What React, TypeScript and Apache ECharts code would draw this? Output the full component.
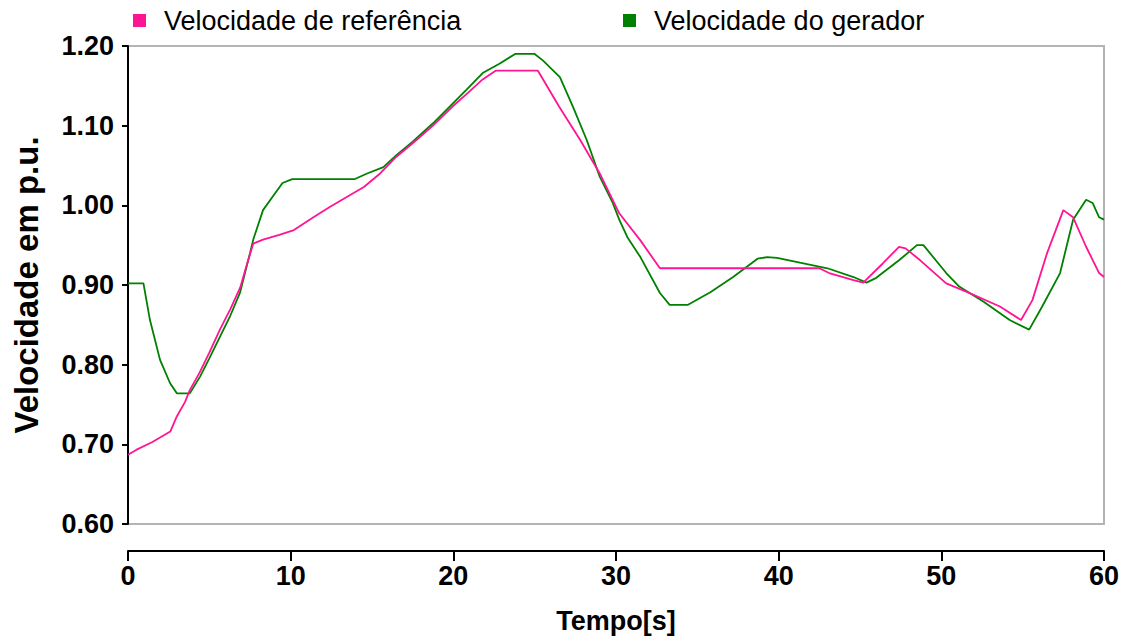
import React, { useEffect, useRef } from "react";
import * as echarts from "echarts";

const seriesNames = ["Velocidade de referência", "Velocidade do gerador"];

const refTime = [0, 0.5, 1.5, 2.6, 3.0, 3.5, 3.8, 4.4, 5.0, 5.65, 6.3, 6.9, 7.3, 7.7, 8.3, 9.3, 10.2, 11.4, 12.4, 13.5, 14.5, 15.5, 16.5, 17.5, 18.75, 20.0, 21.0, 21.8, 22.6, 25.2, 26.5, 27.8, 29.0, 30.2, 31.5, 32.7, 42.5, 43.1, 44.6, 45.2, 46.4, 47.4, 47.8, 48.7, 50.3, 51.6, 53.6, 54.9, 55.6, 56.5, 57.5, 58.1, 58.9, 59.7, 60];
const refValue = [0.687, 0.693, 0.703, 0.716, 0.735, 0.753, 0.768, 0.790, 0.815, 0.844, 0.870, 0.897, 0.925, 0.952, 0.957, 0.963, 0.969, 0.985, 0.998, 1.011, 1.023, 1.040, 1.061, 1.078, 1.100, 1.125, 1.143, 1.158, 1.169, 1.169, 1.124, 1.082, 1.040, 0.990, 0.956, 0.921, 0.921, 0.915, 0.906, 0.903, 0.927, 0.948, 0.946, 0.931, 0.902, 0.891, 0.873, 0.856, 0.881, 0.940, 0.994, 0.985, 0.948, 0.915, 0.910];

const genTime = [0, 0.95, 1.35, 1.97, 2.58, 3.0, 3.8, 4.43, 5.0, 5.65, 6.3, 6.88, 7.5, 7.7, 8.3, 8.9, 9.5, 10.1, 13.95, 14.7, 15.7, 16.5, 17.5, 18.75, 20.8, 21.8, 22.86, 23.8, 25.0, 25.5, 26.55, 27.35, 28.2, 29.0, 29.8, 30.2, 30.7, 31.5, 32.7, 33.3, 34.4, 35.8, 37.2, 38.7, 39.3, 39.9, 41.3, 43.0, 44.6, 45.4, 46.0, 47.4, 48.5, 48.9, 50.3, 51.1, 52.6, 54.2, 55.4, 56.2, 57.3, 58.1, 58.9, 59.3, 59.7, 60];
const genValue = [0.902, 0.902, 0.856, 0.806, 0.777, 0.764, 0.764, 0.785, 0.808, 0.835, 0.862, 0.890, 0.940, 0.957, 0.994, 1.011, 1.028, 1.033, 1.033, 1.040, 1.048, 1.063, 1.080, 1.103, 1.145, 1.166, 1.178, 1.190, 1.190, 1.182, 1.161, 1.124, 1.082, 1.036, 1.003, 0.982, 0.960, 0.935, 0.890, 0.875, 0.875, 0.891, 0.910, 0.933, 0.935, 0.934, 0.928, 0.921, 0.910, 0.903, 0.909, 0.931, 0.950, 0.950, 0.915, 0.898, 0.879, 0.856, 0.844, 0.873, 0.915, 0.982, 1.007, 1.003, 0.985, 0.982];

const xTitle = "Tempo[s]";
const yTitle = "Velocidade em p.u.";

const FONT = "'Liberation Sans', Arial, sans-serif";

export default function App() {
  const ref = useRef<HTMLDivElement>(null);
  useEffect(() => {
    if (!ref.current) return;
    const chart = echarts.init(ref.current, null, { renderer: "svg" });
    const legendBase = {
      icon: "rect",
      itemWidth: 13,
      itemHeight: 13,
      padding: 0,
      top: 7,
      textStyle: { fontSize: 27, color: "#000", fontFamily: FONT, padding: [0, 0, 0, 13] },
    };
    chart.setOption({
      animation: false,
      backgroundColor: "#fff",
      legend: [
        { ...legendBase, data: [seriesNames[0]], left: 133 },
        { ...legendBase, data: [seriesNames[1]], left: 623 },
      ],
      grid: {
        left: 128,
        top: 46,
        width: 976,
        height: 478,
        show: true,
        borderColor: "#b4b4b4",
        borderWidth: 2,
        backgroundColor: "transparent",
      },
      xAxis: {
        type: "value",
        min: 0,
        max: 60,
        interval: 10,
        offset: 27,
        name: xTitle,
        nameLocation: "middle",
        nameGap: 56,
        nameTextStyle: { fontSize: 27, fontWeight: "bold", color: "#000", fontFamily: FONT },
        axisLine: { show: true, onZero: false, lineStyle: { color: "#000", width: 2 } },
        axisTick: { show: true, length: 10, lineStyle: { color: "#000", width: 2 } },
        axisLabel: { fontSize: 27, fontWeight: "bold", color: "#000", margin: 11, fontFamily: FONT },
        splitLine: { show: false },
      },
      yAxis: {
        type: "value",
        min: 0.6,
        max: 1.2,
        interval: 0.1,
        name: yTitle,
        nameLocation: "middle",
        nameGap: 85,
        nameTextStyle: { fontSize: 33, fontWeight: "bold", color: "#000", fontFamily: FONT },
        axisLine: { show: true, lineStyle: { color: "#000", width: 2 } },
        axisTick: { show: true, length: 6, lineStyle: { color: "#000", width: 2 } },
        axisLabel: {
          fontSize: 27,
          fontWeight: "bold",
          color: "#000",
          margin: 14,
          fontFamily: FONT,
          formatter: (v: number) => v.toFixed(2),
        },
        splitLine: { show: false },
      },
      series: [
        {
          name: seriesNames[0],
          type: "line",
          showSymbol: false,
          color: "#ff1493",
          lineStyle: { color: "#ff1493", width: 1.8 },
          data: refTime.map((t, i) => [t, refValue[i]]),
          z: 3,
        },
        {
          name: seriesNames[1],
          type: "line",
          showSymbol: false,
          color: "#008000",
          lineStyle: { color: "#008000", width: 1.8 },
          data: genTime.map((t, i) => [t, genValue[i]]),
          z: 2,
        },
      ],
    });
    return () => chart.dispose();
  }, []);
  return (
    <div
      ref={ref}
      style={{ position: "fixed", left: 0, top: 0, width: 1134, height: 640, background: "#fff" }}
    />
  );
}
